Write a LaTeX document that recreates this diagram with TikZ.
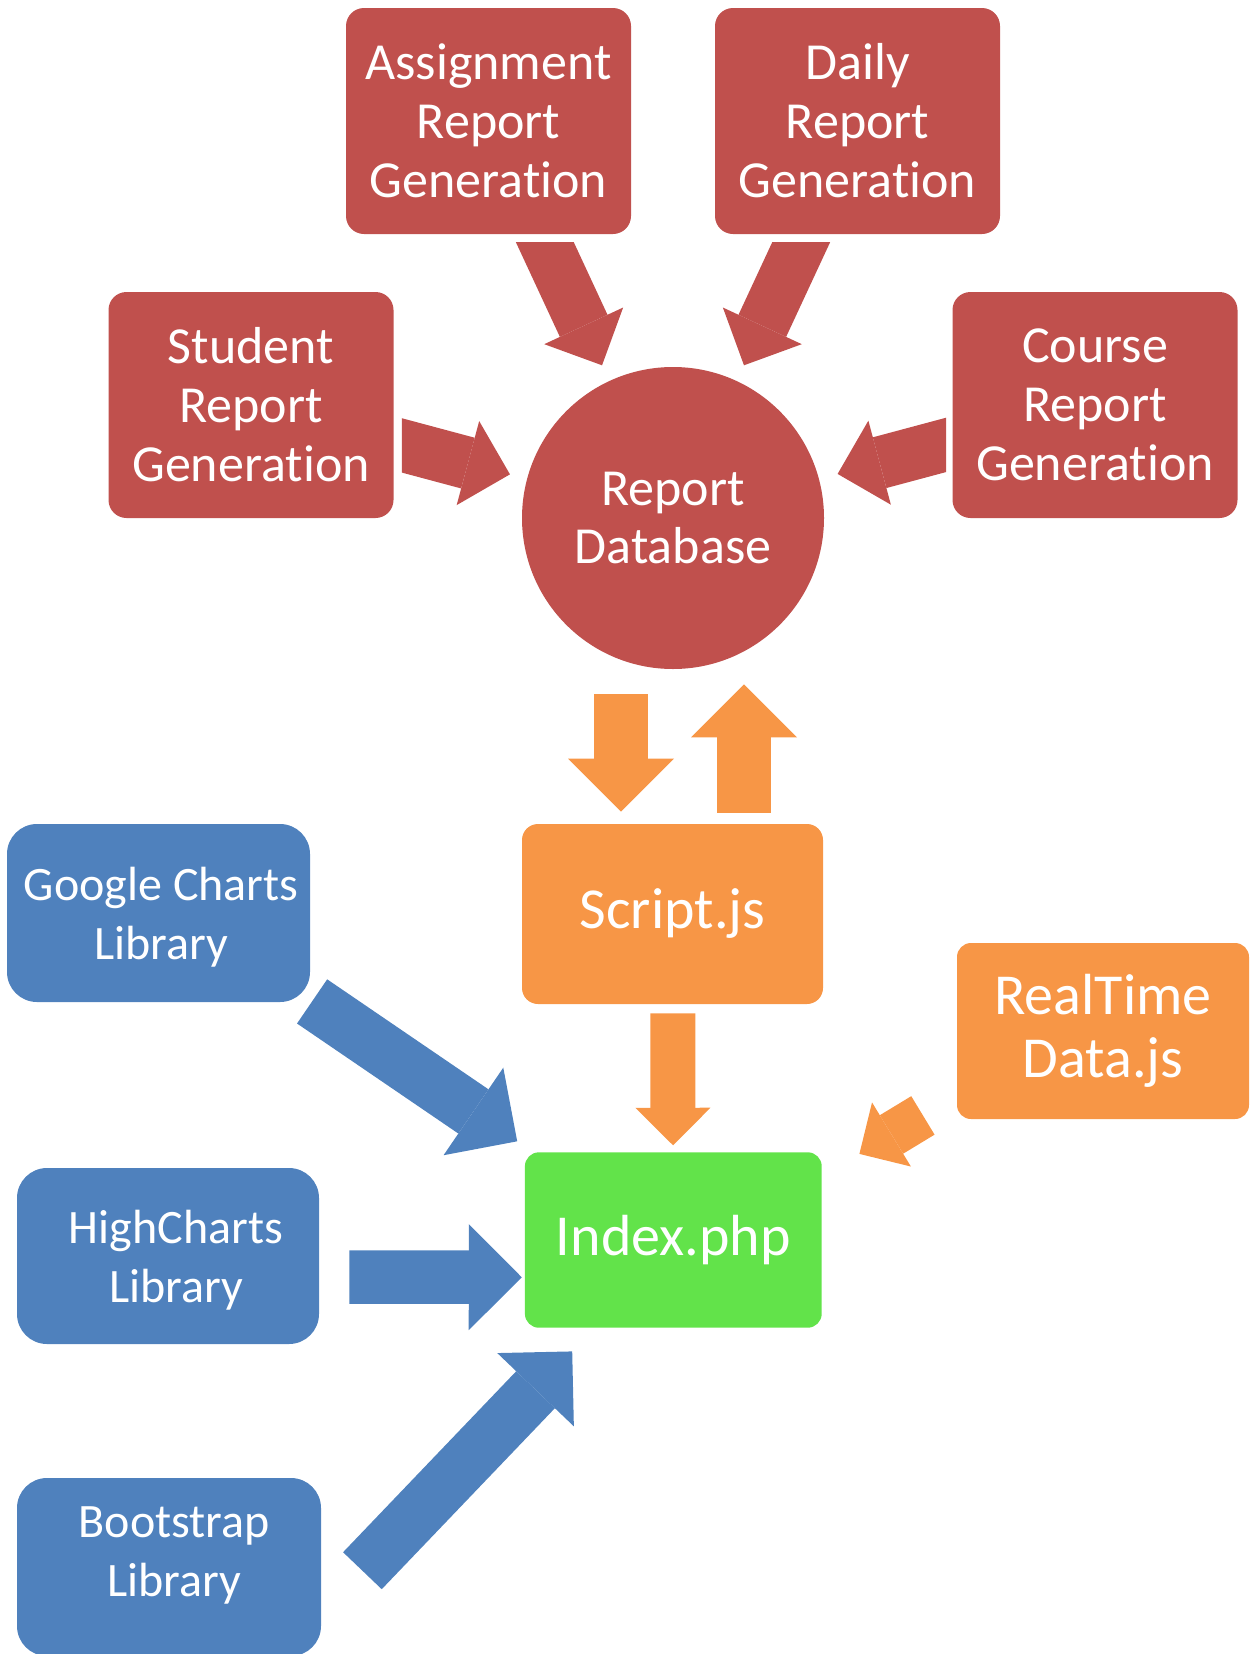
\documentclass[tikz,border=0pt]{standalone}
\usepackage{fontspec}
\setmainfont{Carlito}[Ligatures={NoCommon,NoContextual}]
\usetikzlibrary{arrows.meta}

\definecolor{repred}{HTML}{C0504D}
\definecolor{jsorange}{HTML}{F79646}
\definecolor{libblue}{HTML}{4F81BD}
\definecolor{phpgreen}{HTML}{62E34A}

\begin{document}
\begin{tikzpicture}[
    x=0.5pt, y=-0.5pt,
    report/.style={rectangle, rounded corners=9pt, fill=repred, text=white, align=center, inner sep=0pt, minimum width=142.5pt, minimum height=113pt, font=\fontsize{26}{29.5}\selectfont},
    database/.style={circle, fill=repred, text=white, align=center, inner sep=0pt, minimum size=151pt, font=\fontsize{26}{29}\selectfont},
    jsfile/.style={rectangle, rounded corners=8pt, fill=jsorange, text=white, align=center, inner sep=0pt, font=\fontsize{29}{31.5}\selectfont},
    phpfile/.style={rectangle, rounded corners=7pt, fill=phpgreen, text=white, align=center, inner sep=0pt, minimum width=148.4pt, minimum height=87.7pt, font=\fontsize{29}{31.5}\selectfont},
    library/.style={rectangle, rounded corners=15pt, fill=libblue, text=white, align=center, inner sep=0pt, minimum width=151.5pt, minimum height=89pt, text depth=0pt, font=\fontsize{24}{29.5}\selectfont},
    redarrow/.style={draw=repred, line width=26.25pt, -{Triangle[length=21.75pt, width=43.5pt, line width=0pt]}},
    bigarrow/.style={line width=26.75pt, -{Triangle[length=26.5pt, width=53pt, line width=0pt]}},
    smallarrow/.style={draw=jsorange, line width=22.5pt, -{Triangle[length=18.75pt, width=37.5pt, line width=0pt]}}
]
\useasboundingbox (0,0) rectangle (1249,1654);

% Report generators
\node[report] (asg) at (488.5,121) {Assignment\\Report\\Generation};
\node[report] (daily) at (857.5,121) {Daily\\Report\\Generation};
\node[report] (stud) at (251,405) {Student\\Report\\Generation};
\node[report] (course) at (1095,405) {Course\\Report\\Generation};
\node[database] (db) at (673,518) {Report\\Database};

% Scripts and page
\node[jsfile, minimum width=150.5pt, minimum height=90pt] (script) at (672.5,914) {Script.js};
\node[jsfile, rounded corners=7pt, minimum width=146pt, minimum height=88pt] (rt) at (1103,1031) {RealTime\\Data.js};
\node[phpfile] (idx) at (673.3,1240) {Index.php};

% Libraries
\node[library] (gchart) at (158.5,913) {\hspace*{2.6pt}Google Charts\\\hspace*{2.6pt}Library};
\node[library, minimum width=151pt, minimum height=88pt] (hchart) at (168,1256) {\hspace*{8pt}HighCharts\\\hspace*{8pt}Library};
\node[library, minimum width=152pt, text depth=15.6pt] (boot) at (169,1567) {\hspace*{5.3pt}Bootstrap\\\hspace*{5.3pt}Library};

% Arrows into the database (tails cut square to the box)
\begin{scope}
\clip ([shift={(0,8)}]asg.south west) rectangle ([shift={(0,150)}]asg.south east);
\draw[redarrow, shorten >=8.5pt] (asg.center) -- (db);
\end{scope}
\begin{scope}
\clip ([shift={(0,8)}]daily.south west) rectangle ([shift={(0,150)}]daily.south east);
\draw[redarrow, shorten >=8.5pt] (daily.center) -- (db);
\end{scope}
\begin{scope}
\clip ([shift={(8,0)}]stud.north east) rectangle ([shift={(140,0)}]stud.south east);
\draw[redarrow, shorten >=8.7pt] (stud.center) -- (db);
\end{scope}
\begin{scope}
\clip ([shift={(-6,0)}]course.north west) rectangle ([shift={(-140,0)}]course.south west);
\draw[redarrow, shorten >=9.5pt] (course.center) -- (db);
\end{scope}

% Database <-> script
\draw[bigarrow, draw=jsorange] ([shift={(-52,25)}]db.south) -- ([shift={(-51.5,-12)}]script.north);
\draw[bigarrow, draw=jsorange] ([shift={(71.5,-11)}]script.north) -- ([shift={(71,15)}]db.south);

% Into the page
\draw[smallarrow, shorten <=4.5pt, shorten >=3.3pt] (script) -- (idx);
\draw[smallarrow] ([shift={(-33.7,-4)}]rt.south west) -- ([shift={(37.3,2)}]idx.north east);
\draw[bigarrow, draw=libblue] ([shift={(1.7,-1)}]gchart.south east) -- ([shift={(-7.3,-10.6)}]idx.north west);
\draw[bigarrow, draw=libblue] ([shift={(30,21)}]hchart.east) -- ([shift={(-2.7,37.3)}]idx.west);
\draw[bigarrow, draw=libblue] ([shift={(41,3.7)}]boot.east) -- ([shift={(47.7,23.3)}]idx.south west);

\end{tikzpicture}
\end{document}
